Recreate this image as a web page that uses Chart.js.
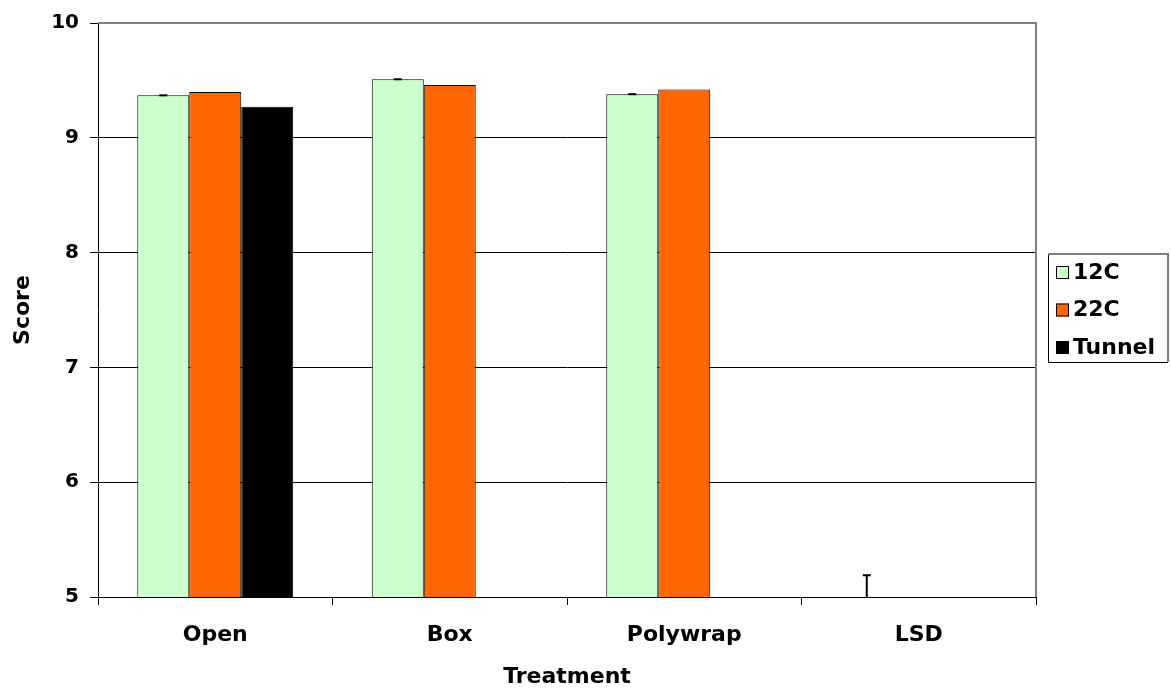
<!DOCTYPE html>
<html>
<head>
<meta charset="utf-8">
<script src="https://cdn.jsdelivr.net/npm/chart.js@4.4.1/dist/chart.umd.min.js"></script>
<style>
  html, body { margin: 0; padding: 0; background: #fff; }
  #wrap { width: 1171px; height: 690px; }
</style>
</head>
<body>
<div id="wrap"><canvas id="scoreChart" width="1171" height="690"></canvas></div>
<script>
const treatments = ['Open', 'Box', 'Polywrap', 'LSD'];
const seriesNames = ['12C', '22C', 'Tunnel'];
const score12C = [9.37, 9.51, 9.38, 5];
const score22C = [9.40, 9.46, 9.42, null];
const scoreTunnel = [9.27, null, null, null];
// error bar (upper) on the 12C series; LSD is drawn only as its bar
const err12C = [0, 0, 0, 0.19];
const yTicks = [5, 6, 7, 8, 9, 10];

const colors = ['#CCFFCC', '#FF6600', '#000000'];
const FONT = '"DejaVu Sans", Arial, sans-serif';

// little error bars with caps on the first dataset
const errorBars = {
    id: 'errorBars',
    afterDatasetsDraw(chart) {
        const ctx = chart.ctx;
        const meta = chart.getDatasetMeta(0);
        const y = chart.scales.y;
        ctx.save();
        ctx.strokeStyle = '#000';
        ctx.lineWidth = 2;
        meta.data.forEach((bar, i) => {
            const v = score12C[i];
            if (v == null) return;
            const top = y.getPixelForValue(v + err12C[i]);
            const base = y.getPixelForValue(v);
            ctx.beginPath();
            ctx.moveTo(bar.x, base);
            ctx.lineTo(bar.x, top);
            ctx.moveTo(bar.x - 4, top);
            ctx.lineTo(bar.x + 4, top);
            ctx.stroke();
        });
        ctx.restore();
    }
};

// grey top/right frame of the plot area plus the boxed legend
const frameAndLegend = {
    id: 'frameAndLegend',
    afterDraw(chart) {
        const ctx = chart.ctx;
        const a = chart.chartArea;
        ctx.save();
        ctx.strokeStyle = '#808080';
        ctx.lineWidth = 2;
        ctx.beginPath();
        ctx.moveTo(a.left, a.top);
        ctx.lineTo(a.right, a.top);
        ctx.lineTo(a.right, a.bottom);
        ctx.stroke();

        // legend box
        const lx = 1048, ly = 254, lw = 120, lh = 108;
        ctx.lineWidth = 1;
        ctx.strokeStyle = '#000';
        ctx.beginPath();
        ctx.moveTo(lx + 0.5, ly);
        ctx.lineTo(lx + 0.5, ly + lh + 0.5);
        ctx.lineTo(lx + lw, ly + lh + 0.5);
        ctx.stroke();
        ctx.strokeStyle = '#808080';
        ctx.lineWidth = 2;
        ctx.beginPath();
        ctx.moveTo(lx, ly);
        ctx.lineTo(lx + lw, ly);
        ctx.lineTo(lx + lw, ly + lh);
        ctx.stroke();

        ctx.font = 'bold 22px ' + FONT;
        ctx.textBaseline = 'middle';
        ctx.textAlign = 'left';
        chart.data.datasets.forEach((ds, i) => {
            const cy = 272 + i * 37.5;
            ctx.fillStyle = ds.backgroundColor;
            ctx.fillRect(1056, cy - 6, 13, 13);
            ctx.strokeStyle = '#000';
            ctx.lineWidth = 1;
            ctx.strokeRect(1056.5, cy - 5.5, 12, 12);
            ctx.fillStyle = '#000';
            ctx.fillText(ds.label, 1073, cy + 1);
        });
        ctx.restore();
    }
};

const datasets = [score12C, score22C, scoreTunnel].map((vals, i) => ({
    label: seriesNames[i],
    data: vals,
    backgroundColor: colors[i],
    borderColor: '#000',
    borderWidth: c => (c.raw != null && c.raw <= 5 ? 0 : 1),
    borderSkipped: false,
    barPercentage: 1,
    categoryPercentage: 0.665
}));

new Chart(document.getElementById('scoreChart'), {
    type: 'bar',
    data: { labels: treatments, datasets },
    options: {
        responsive: false,
        animation: false,
        layout: { padding: { top: 22, right: 135, left: 0, bottom: 0 } },
        plugins: {
            legend: { display: false },
            tooltip: { enabled: false }
        },
        scales: {
            x: {
                grid: {
                    display: true,
                    offset: true,
                    drawOnChartArea: false,
                    drawTicks: true,
                    tickLength: 8,
                    color: '#000'
                },
                border: { color: '#000', width: 1 },
                ticks: {
                    color: '#000',
                    font: { family: FONT, size: 22, weight: 'bold' },
                    padding: 17,
                    maxRotation: 0
                },
                title: {
                    display: true,
                    text: 'Treatment',
                    color: '#000',
                    font: { family: FONT, size: 22, weight: 'bold' },
                    padding: { top: 8, bottom: 0 }
                },
                afterFit: s => { s.height = 93; }
            },
            y: {
                min: 5,
                max: 10,
                afterBuildTicks: s => { s.ticks = yTicks.map(v => ({ value: v })); },
                grid: {
                    color: '#000',
                    tickLength: 8,
                    drawTicks: true
                },
                border: { color: '#000', width: 1 },
                ticks: {
                    color: '#000',
                    font: { family: FONT, size: 20, weight: 'bold' },
                    padding: 11
                },
                title: {
                    display: true,
                    text: 'Score',
                    color: '#000',
                    font: { family: FONT, size: 22, weight: 'bold' },
                    padding: { top: 10, bottom: 0 }
                },
                afterFit: s => { s.width = 98; }
            }
        }
    },
    plugins: [errorBars, frameAndLegend]
});
</script>
</body>
</html>
